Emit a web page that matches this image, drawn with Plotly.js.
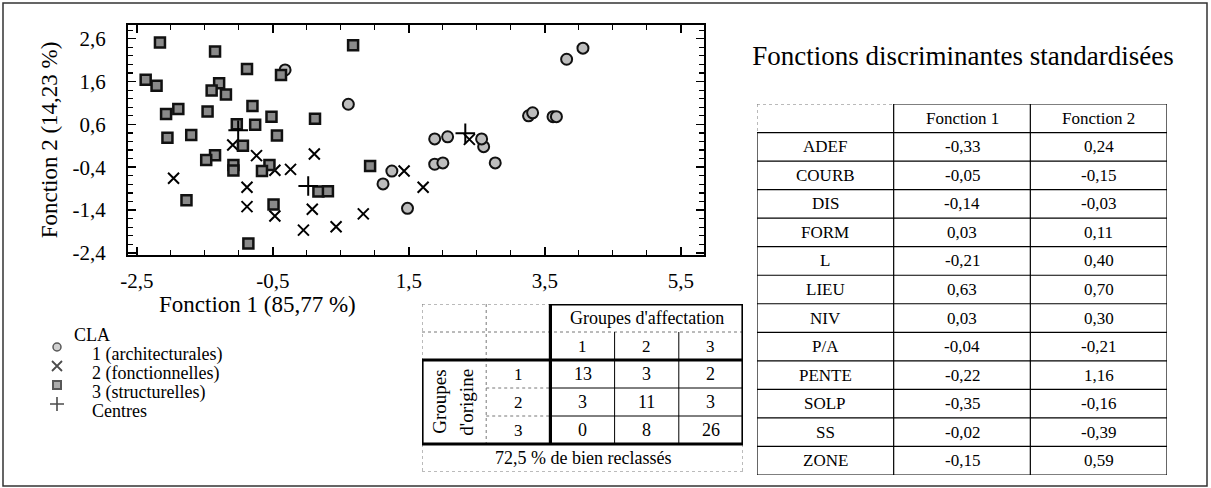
<!DOCTYPE html>
<html><head><meta charset="utf-8">
<script src="https://cdn.plot.ly/plotly-3.0.1.min.js"></script>
<style>html,body{margin:0;padding:0;background:#fff}#chart{width:1211px;height:488px}</style>
</head><body><div id="chart"></div>
<script>
// ---- Scatter data (discriminant scores) ----
const g1x = [-0.32, 0.61, 1.25, 1.12, 1.48, 1.88, 2.00, 2.77, 2.60, 1.88, 2.07, 2.57, 3.26, 3.32, 3.62, 3.67, 3.82, 4.06];
const g1y = [1.87, 1.07, -0.49, -0.79, -1.36, -0.33, -0.30, -0.30, 0.08, 0.26, 0.31, 0.26, 0.80, 0.87, 0.78, 0.78, 2.12, 2.38];
const g2x = [-1.09, -0.74, 0.11, -0.47, -0.24, -0.88, -0.88, -0.47, 0.08, -0.05, 0.43, -1.96, 1.43, 1.71, 0.83, 2.39];
const g2y = [0.12, -0.13, -0.09, -0.47, -0.45, -0.87, -1.32, -1.54, -1.38, -1.87, -1.79, -0.66, -0.49, -0.87, -1.49, 0.25];
const g3x = [-2.16, -1.35, -0.88, -0.38, -2.37, -2.21, -1.29, -1.40, -1.19, -1.89, -2.07, -1.46, -0.80, -0.52, -0.76, -1.03, 0.12, -0.44, -1.70, -2.05, -0.94, -1.35, -1.48, -1.08, -1.08, -0.55, -0.66, 0.17, 0.31, -0.49, -0.86, -1.77, 0.93, 0.68];
const g3y = [2.51, 2.30, 1.89, 1.75, 1.64, 1.50, 1.56, 1.39, 1.30, 0.96, 0.84, 0.90, 1.03, 0.78, 0.59, 0.60, 0.73, 0.34, 0.35, 0.29, 0.10, -0.12, -0.23, -0.35, -0.48, -0.35, -0.49, -0.97, -0.96, -1.27, -2.18, -1.17, -0.37, 2.45];
const centresX = [-1.01, 0.02, 2.33];
const centresY = [0.46, -0.84, 0.39];

// ---- Axis ticks and titles ----
const xTickVals = [-2.5, -0.5, 1.5, 3.5, 5.5];
const yTickVals = [-2.4, -1.4, -0.4, 0.6, 1.6, 2.6];
const xTitle = 'Fonction 1 (85,77 %)';
const yTitle = 'Fonction 2 (14,23 %)';

// ---- Legend ----
const legendTitle = 'CLA';
const legendLabels = ['1 (architecturales)', '2 (fonctionnelles)', '3 (structurelles)', 'Centres'];

// ---- Classification table ----
const assignedTitle = "Groupes d'affectation";
const originTitle = ['Groupes', "d'origine"];
const groupLabels = ['1', '2', '3'];
const confMatrix = [[13, 3, 2], [3, 11, 3], [0, 8, 26]];
const wellClassified = '72,5 % de bien reclassés';

// ---- Standardized discriminant functions table ----
const tableTitle = 'Fonctions discriminantes standardisées';
const tableHeader = ['Fonction 1', 'Fonction 2'];
const variables = ['ADEF', 'COURB', 'DIS', 'FORM', 'L', 'LIEU', 'NIV', 'P/A', 'PENTE', 'SOLP', 'SS', 'ZONE'];
const func1 = [-0.33, -0.05, -0.14, 0.03, -0.21, 0.63, 0.03, -0.04, -0.22, -0.35, -0.02, -0.15];
const func2 = [0.24, -0.15, -0.03, 0.11, 0.40, 0.70, 0.30, -0.21, 1.16, -0.16, -0.39, 0.59];

// ---------------------------------------------------------------
const F = 'Liberation Serif, Times New Roman, serif';
const W = 1211, H = 488;
const px = v => v / W, py = v => 1 - v / H;
const fmt = v => v.toFixed(2).replace('.', ',');
const fmt1 = v => v.toFixed(1).replace('.', ',');

const styles = [
  {symbol: 'circle', size: 11, color: '#bdbdbd', line: {color: '#111', width: 2}},
  {symbol: 'x-thin', size: 11, color: '#000', line: {color: '#000', width: 2}},
  {symbol: 'square', size: 10, color: '#8a8a8a', line: {color: '#111', width: 2.5}},
  {symbol: 'cross-thin', size: 14, color: '#000', line: {color: '#000', width: 2}}
];

const traces = [
  {x: g1x, y: g1y, type: 'scatter', mode: 'markers', name: legendLabels[0], marker: styles[0], showlegend: false, cliponaxis: false},
  {x: g2x, y: g2y, type: 'scatter', mode: 'markers', name: legendLabels[1], marker: styles[1], showlegend: false, cliponaxis: false},
  {x: g3x, y: g3y, type: 'scatter', mode: 'markers', name: legendLabels[2], marker: styles[2], showlegend: false, cliponaxis: false},
  {x: centresX, y: centresY, type: 'scatter', mode: 'markers', name: legendLabels[3], marker: styles[3], showlegend: false, cliponaxis: false},
  // legend symbols
  {x: legendLabels.map(() => 7), y: legendLabels.map((_, i) => i + 1), xaxis: 'x4', yaxis: 'y4', type: 'scatter', mode: 'markers',
   showlegend: false, hoverinfo: 'skip', cliponaxis: false,
   marker: {symbol: styles.map(s => s.symbol), size: [8, 10, 8, 10],
            color: styles.map(s => s.color),
            line: {color: styles.map(s => s.line.color), width: [1.5, 1.8, 2, 1.6]}}},
  {x: [], y: [], xaxis: 'x3', yaxis: 'y3', type: 'scatter', showlegend: false},
  {x: [], y: [], xaxis: 'x5', yaxis: 'y5', type: 'scatter', showlegend: false}
];

const shapes = [];
const annotations = [];
function seg(xr, yr, x0, y0, x1, y1, w, color, dash) {
  shapes.push({type: 'line', xref: xr, yref: yr, x0, y0, x1, y1, layer: 'above',
               line: {width: w, color: color, dash: dash || 'solid'}});
}
function txt(xr, yr, x, y, text, size, extra) {
  annotations.push(Object.assign({xref: xr, yref: yr, x, y, text, showarrow: false,
    font: {family: F, size: size, color: '#000'}, xanchor: 'center', yanchor: 'middle'}, extra || {}));
}

// ---- classification table (x3/y3, grid units) ----
const nG = groupLabels.length; // 3
const nC = nG + 2, nR = nG + 3;
const dotC = '#777';
seg('x3','y3', 0, 0, 2, 0, 1, dotC, 'dot');
seg('x3','y3', 0, 0, 0, 2, 1, dotC, 'dot');
seg('x3','y3', 1, 0, 1, nR - 1, 1, dotC, 'dot');
seg('x3','y3', 0, 1, nC, 1, 1, dotC, 'dot');
for (let i = 1; i < nG; i++) {
  seg('x3','y3', 1, 2 + i, 2, 2 + i, 1, dotC, 'dot');
  seg('x3','y3', 2, 2 + i, nC, 2 + i, 1, '#000');
  seg('x3','y3', 2 + i, 1, 2 + i, nR - 1, 1, '#000');
}
seg('x3','y3', 0, nR, nC, nR, 1, dotC, 'dot');
seg('x3','y3', 0, nR - 1, 0, nR, 1, dotC, 'dot');
seg('x3','y3', nC, nR - 1, nC, nR, 1, dotC, 'dot');
// thick frames
[[2,0,nC,0],[nC,0,nC,2],[2,0,2,nR-1],[0,2,nC,2],[0,nR-1,nC,nR-1],[0,2,0,nR-1],[nC,2,nC,nR-1]]
  .forEach(s => seg('x3','y3', s[0], s[1], s[2], s[3], 3.2, '#000'));
txt('x3','y3', 2 + nG / 2, 0.5, assignedTitle, 18);
groupLabels.forEach((g, j) => txt('x3','y3', 2.5 + j, 1.5, g, 17));
txt('x3','y3', 0.26, 2 + nG / 2, originTitle[0], 19, {textangle: -90});
txt('x3','y3', 0.68, 2 + nG / 2, originTitle[1], 19, {textangle: -90});
groupLabels.forEach((g, i) => {
  txt('x3','y3', 1.5, 2.5 + i, g, 17);
  confMatrix[i].forEach((v, j) => txt('x3','y3', 2.5 + j, 2.5 + i, String(v), 18));
});
txt('x3','y3', nC / 2, nR - 0.5, wellClassified, 18);

// ---- standardized functions table (x5/y5) ----
const nRows = variables.length + 1;
seg('x5','y5', 0, 0, 1, 0, 1, dotC, 'dot');
seg('x5','y5', 0, 0, 0, 1, 1, dotC, 'dot');
seg('x5','y5', 1, 0, 3, 0, 1.2, '#000');
for (let r = 1; r <= nRows; r++) seg('x5','y5', 0, r, 3, r, 1.2, '#000');
seg('x5','y5', 0, 1, 0, nRows, 1.2, '#000');
for (let c = 1; c <= 3; c++) seg('x5','y5', c, 0, c, nRows, 1.2, '#000');
tableHeader.forEach((h, j) => txt('x5','y5', 1.5 + j, 0.5, h, 17));
variables.forEach((v, i) => {
  txt('x5','y5', 0.5, i + 1.5, v, 17);
  txt('x5','y5', 1.5, i + 1.5, fmt(func1[i]), 17);
  txt('x5','y5', 2.5, i + 1.5, fmt(func2[i]), 17);
});

// ---- legend text (x4/y4) ----
txt('x4','y4', 22, 0, legendTitle, 18, {xanchor: 'left', yshift: -7});
legendLabels.forEach((l, i) => txt('x4','y4', 40, i + 1, l, 18, {xanchor: 'left', yshift: -7}));

// ---- x axis title (centred under the left part, as in the reference) ----
txt('paper', 'paper', px(257), py(304), xTitle, 23);

// outer frame
shapes.push({type: 'rect', xref: 'paper', yref: 'paper', x0: px(3), x1: px(1207), y0: py(486), y1: py(3),
             line: {color: '#333', width: 1.5}, layer: 'below'});

const hidden = {visible: false, fixedrange: true, showgrid: false, zeroline: false};
const layout = {
  width: W, height: H,
  margin: {l: 0, r: 0, t: 0, b: 0},
  paper_bgcolor: '#fff', plot_bgcolor: '#fff',
  showlegend: false,
  font: {family: F, color: '#000'},
  title: {text: tableTitle, x: px(963), y: py(56), xanchor: 'center', yanchor: 'middle', xref: 'paper', yref: 'paper',
          font: {family: F, size: 27, color: '#000'}},
  xaxis: {domain: [px(128), px(704)], range: [-2.63, 5.84],
          tickmode: 'array', tickvals: xTickVals, ticktext: xTickVals.map(fmt1),
          ticks: 'inside', ticklen: 8, tickwidth: 1.5, tickcolor: '#000', mirror: 'ticks',
          showline: true, linewidth: 2, linecolor: '#000', showgrid: false, zeroline: false,
          minor: {tick0: -2.5, dtick: 0.5, ticks: 'inside', ticklen: 5, tickwidth: 1.2, tickcolor: '#000', showgrid: false},
          tickfont: {family: F, size: 21, color: '#000'}, ticklabelstandoff: 6,
          fixedrange: true, anchor: 'y'},
  yaxis: {domain: [py(255), py(25)], range: [-2.45, 2.92],
          tickmode: 'array', tickvals: yTickVals, ticktext: yTickVals.map(fmt1),
          ticks: 'inside', ticklen: 8, tickwidth: 1.5, tickcolor: '#000', mirror: 'ticks',
          showline: true, linewidth: 2, linecolor: '#000', showgrid: false, zeroline: false,
          minor: {tick0: 0.6, dtick: 0.2, ticks: 'inside', ticklen: 5, tickwidth: 1.2, tickcolor: '#000', showgrid: false},
          tickfont: {family: F, size: 21, color: '#000'}, ticklabelstandoff: 16,
          title: {text: yTitle, font: {family: F, size: 23, color: '#000'}, standoff: 8},
          fixedrange: true, anchor: 'x'},
  xaxis3: Object.assign({domain: [px(422), px(743)], range: [0, 5], anchor: 'y3'}, hidden),
  yaxis3: Object.assign({domain: [py(472), py(304)], range: [6, 0], anchor: 'x3'}, hidden),
  xaxis4: Object.assign({domain: [px(50), px(330)], range: [0, 280], anchor: 'y4'}, hidden),
  yaxis4: Object.assign({domain: [py(413.5), py(318.5)], range: [4.5, -0.5], anchor: 'x4'}, hidden),
  xaxis5: Object.assign({domain: [px(757), px(1167)], range: [0, 3], anchor: 'y5'}, hidden),
  yaxis5: Object.assign({domain: [py(475), py(104)], range: [13, 0], anchor: 'x5'}, hidden),
  shapes: shapes,
  annotations: annotations
};

Plotly.newPlot('chart', traces, layout, {displayModeBar: false, staticPlot: true});
</script>
</body></html>
